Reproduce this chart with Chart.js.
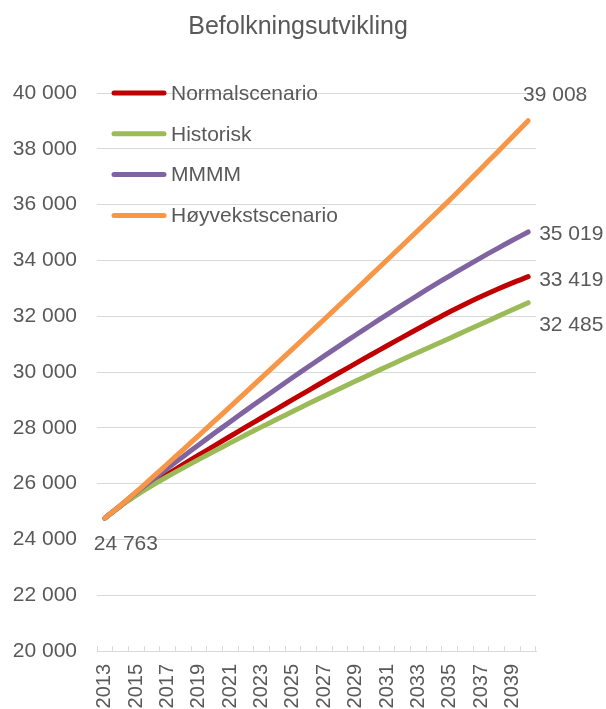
<!DOCTYPE html>
<html>
<head>
<meta charset="utf-8">
<script src="https://cdn.jsdelivr.net/npm/chart.js@4/dist/chart.umd.min.js"></script>
<style>
  html, body { margin: 0; padding: 0; background: #fff; }
  canvas { display: block; }
</style>
</head>
<body>
<canvas id="befolkning" width="606" height="709"></canvas>
<script>
// Befolkningsutvikling – fire scenario 2013-2040

const years = ['2013', '2014', '2015', '2016', '2017', '2018', '2019', '2020', '2021', '2022',
  '2023', '2024', '2025', '2026', '2027', '2028', '2029', '2030', '2031', '2032',
  '2033', '2034', '2035', '2036', '2037', '2038', '2039', '2040'];

const normalscenario = [24763, 25200, 25610, 25985, 26340, 26685, 27025, 27362, 27697, 28030,
  28361, 28690, 29018, 29344, 29668, 29990, 30310, 30627, 30941, 31252,
  31559, 31862, 32160, 32440, 32705, 32957, 33195, 33419];

const historisk = [24763, 25200, 25580, 25930, 26255, 26565, 26868, 27166, 27459, 27748,
  28033, 28314, 28592, 28867, 29139, 29408, 29674, 29937, 30197, 30454,
  30708, 30959, 31213, 31467, 31721, 31975, 32230, 32485];

const mmmm = [24763, 25220, 25680, 26120, 26550, 26975, 27395, 27810, 28220, 28625,
  29025, 29420, 29810, 30196, 30578, 30955, 31327, 31694, 32056, 32413,
  32765, 33112, 33449, 33779, 34101, 34415, 34721, 35019];

const hoyvekst = [24763, 25220, 25700, 26205, 26712, 27221, 27732, 28245, 28760, 29277,
  29796, 30317, 30840, 31364, 31890, 32418, 32948, 33480, 34014, 34550,
  35088, 35628, 36170, 36730, 37294, 37862, 38433, 39008];

const seriesNames = ['Normalscenario', 'Historisk', 'MMMM', 'Høyvekstscenario'];
const seriesColors = ['#C00000', '#9BBB59', '#8064A2', '#F79646'];

const yMin = 20000, yMax = 40000, yStep = 2000;

const FONT = '"Liberation Sans", Arial, sans-serif';
const GREY = '#595959';

const fmt = v => String(Math.round(v)).replace(/\B(?=(\d{3})+(?!\d))/g, ' ');

// legende inne i plottområdet, øverst til venstre
const insideLegend = {
  id: 'insideLegend',
  afterDatasetsDraw(chart) {
    const ctx = chart.ctx, area = chart.chartArea;
    ctx.save();
    ctx.font = '21px ' + FONT;
    ctx.textBaseline = 'middle';
    ctx.textAlign = 'left';
    chart.data.datasets.forEach((ds, i) => {
      const y = area.top + i * 40.8;
      const x0 = area.left + 15;
      ctx.strokeStyle = ds.borderColor;
      ctx.lineWidth = 5;
      ctx.lineCap = 'round';
      ctx.beginPath();
      ctx.moveTo(x0 + 2, y);
      ctx.lineTo(x0 + 52, y);
      ctx.stroke();
      ctx.fillStyle = GREY;
      ctx.fillText(ds.label, x0 + 59, y + 1);
    });
    ctx.restore();
  }
};

// verdietiketter ved start og slutt
const endLabels = {
  id: 'endLabels',
  afterDatasetsDraw(chart) {
    const ctx = chart.ctx;
    // [dx, dy, align] per serie for sluttpunktet
    const place = [[11, 4, 'left'], [11, 23, 'left'], [11, 2, 'left'], [27, -25, 'center']];
    ctx.save();
    ctx.font = '21px ' + FONT;
    ctx.fillStyle = GREY;
    ctx.textBaseline = 'middle';
    chart.data.datasets.forEach((ds, i) => {
      const pts = chart.getDatasetMeta(i).data;
      const p = pts[pts.length - 1];
      ctx.textAlign = place[i][2];
      ctx.fillText(fmt(ds.data[ds.data.length - 1]), p.x + place[i][0], p.y + place[i][1]);
    });
    const first = chart.getDatasetMeta(0).data[0];
    ctx.textAlign = 'center';
    ctx.fillText(fmt(chart.data.datasets[0].data[0]), first.x + 21, first.y + 26);
    ctx.restore();
  }
};

const seriesData = [normalscenario, historisk, mmmm, hoyvekst];

new Chart(document.getElementById('befolkning').getContext('2d'), {
  type: 'line',
  data: {
    labels: years,
    datasets: seriesData.map((d, i) => ({
      label: seriesNames[i],
      data: d,
      borderColor: seriesColors[i],
      backgroundColor: seriesColors[i],
      borderWidth: 5,
      borderCapStyle: 'round',
      borderJoinStyle: 'round',
      pointRadius: 0,
      tension: 0.3,
      fill: false,
      order: 4 - i
    }))
  },
  options: {
    responsive: false,
    animation: false,
    layout: { padding: { left: 0, right: 10, top: 0, bottom: 0 } },
    plugins: {
      legend: { display: false },
      tooltip: { enabled: false },
      title: {
        display: true,
        text: 'Befolkningsutvikling',
        color: GREY,
        font: { family: FONT, size: 25, weight: 'normal' },
        padding: { top: 12, bottom: 51 }
      }
    },
    scales: {
      x: {
        type: 'category',
        offset: true,
        grid: {
          offset: true,
          drawOnChartArea: false,
          drawTicks: true,
          tickLength: -5,
          color: '#D9D9D9'
        },
        border: { display: true, color: '#D9D9D9', width: 1 },
        ticks: {
          autoSkip: false,
          minRotation: 90,
          maxRotation: 90,
          padding: 18,
          color: GREY,
          font: { family: FONT, size: 20 },
          callback: function (val, idx) { return idx % 2 === 0 ? this.getLabelForValue(val) : ''; }
        },
        afterFit(scale) { scale.height = 58; }
      },
      y: {
        min: yMin,
        max: yMax,
        grid: { color: '#D9D9D9', lineWidth: 1, drawTicks: false },
        border: { display: false },
        ticks: {
          stepSize: yStep,
          padding: 20,
          color: GREY,
          font: { family: FONT, size: 21 },
          callback: v => fmt(v)
        },
        afterFit(scale) { scale.width = 97; }
      },
      // tom akse til høyre som gir plass til verdietikettene
      yRight: {
        position: 'right',
        min: yMin,
        max: yMax,
        grid: { display: false },
        border: { display: false },
        ticks: { display: false },
        afterFit(scale) { scale.width = 60; }
      }
    }
  },
  plugins: [insideLegend, endLabels]
});
</script>
</body>
</html>
